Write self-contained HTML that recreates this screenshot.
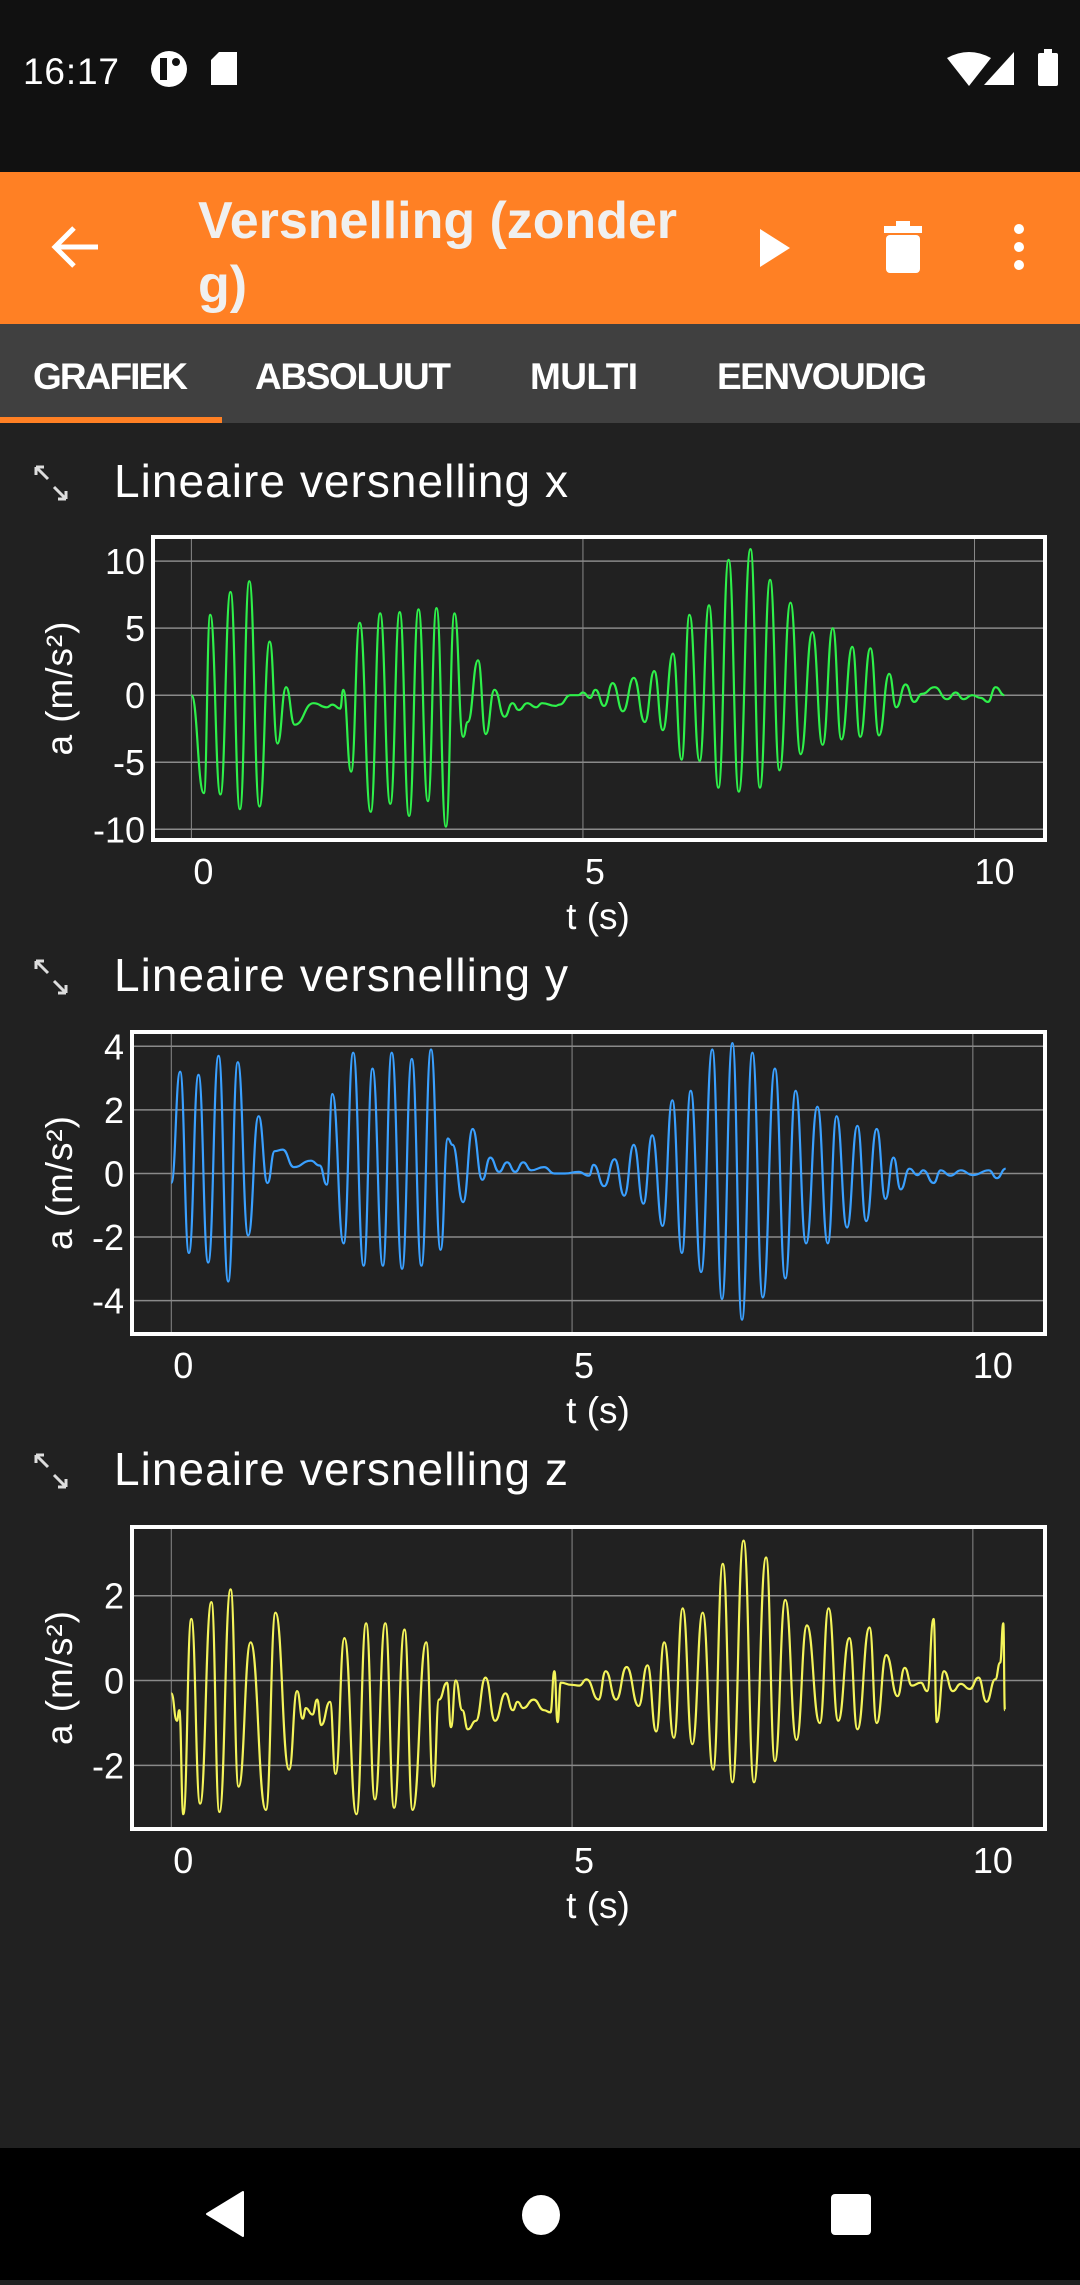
<!DOCTYPE html>
<html><head><meta charset="utf-8">
<style>
html,body{margin:0;padding:0;background:#212121;}
body{width:1080px;height:2280px;position:relative;overflow:hidden;font-family:"Liberation Sans",sans-serif;}
svg text{font-family:"Liberation Sans",sans-serif;}
</style></head>
<body>
<svg id="page" width="1080" height="2280" viewBox="0 0 1080 2280" xmlns="http://www.w3.org/2000/svg">
  <rect x="0" y="0" width="1080" height="2280" fill="#212121"/>
  <g>
    <rect x="0" y="0" width="1080" height="172" fill="#111111"/>
    <text x="23" y="84" font-size="37" fill="#ffffff" textLength="96">16:17</text>
    <circle cx="169" cy="69" r="18" fill="#fff"/>
    <rect x="160" y="58" width="7" height="22" fill="#111"/>
    <circle cx="176" cy="62" r="4" fill="#111"/>
    <path d="M219 52 h18 v33 h-26 v-25 z" fill="#fff"/>
    <path d="M947 58 q22 -12 44 0 l-22 28 z" fill="#fff"/>
    <path d="M1014 52 v33 h-30 z" fill="#fff"/>
    <rect x="1038" y="53" width="20" height="33" rx="2" fill="#fff"/>
    <rect x="1044" y="49" width="8" height="5" fill="#fff"/>
  </g>
  <g>
    <rect x="0" y="172" width="1080" height="152" fill="#ff8024"/>
    <g>
      <path d="M98 247 H56 M74 228 L55 247 L74 266" stroke="#fff" stroke-width="5" fill="none"/>
    </g>
    <text font-size="52" font-weight="bold" fill="#f0f0f0">
      <tspan x="198" y="238" textLength="479">Versnelling (zonder</tspan>
      <tspan x="198" y="302">g)</tspan>
    </text>
    <path d="M760 229 L790 248 L760 267 z" fill="#fff"/>
    <g>
      <rect x="884" y="226" width="38" height="7" fill="#fff"/>
      <rect x="896" y="221" width="14" height="6" fill="#fff"/>
      <rect x="886" y="235" width="34" height="38" rx="4" fill="#fff"/>
    </g>
    <g fill="#fff">
      <circle cx="1019" cy="229" r="5"/><circle cx="1019" cy="247" r="5"/><circle cx="1019" cy="265" r="5"/>
    </g>
  </g>
  <g>
    <rect x="0" y="324" width="1080" height="99" fill="#404040"/>
    <text x="33" y="389" font-size="37" font-weight="bold" fill="#fff" textLength="155">GRAFIEK</text>
    <text x="255" y="389" font-size="37" font-weight="bold" fill="#fff" textLength="196">ABSOLUUT</text>
    <text x="530" y="389" font-size="37" font-weight="bold" fill="#fff" textLength="108">MULTI</text>
    <text x="717" y="389" font-size="37" font-weight="bold" fill="#fff" textLength="210">EENVOUDIG</text>
    <rect x="0" y="417" width="222" height="6" fill="#ff8024"/>
  </g>
  <g id="charts"></g>
  <g>
    <rect x="0" y="2148" width="1080" height="132" fill="#000"/>
    <path d="M243 2192 L243 2236 L207 2214 z" fill="#fff" stroke="#fff" stroke-width="2" stroke-linejoin="round"/>
    <ellipse cx="541" cy="2215" rx="19" ry="20" fill="#fff"/>
    <rect x="831" y="2194" width="40" height="41" rx="4" fill="#fff"/>
  </g>
</svg>
<script>
// ---- data: chart x (green) ----
const xTimes = [0,0.16,0.24,0.37,0.50,0.62,0.74,0.87,1.0,1.10,1.21,1.32,1.56,1.73,1.8,1.9,1.94,2.04,2.15,2.29,2.41,2.54,2.66,2.78,2.90,3.02,3.13,3.25,3.36,3.47,3.53,3.66,3.76,3.87,4.0,4.1,4.18,4.29,4.4,4.48,4.65,4.7,4.84,4.94,5.0,5.09,5.16,5.27,5.38,5.51,5.65,5.79,5.91,6.02,6.15,6.26,6.36,6.49,6.61,6.73,6.86,6.99,7.14,7.26,7.39,7.51,7.65,7.78,7.93,8.06,8.19,8.3,8.44,8.54,8.67,8.78,8.91,9.0,9.12,9.23,9.33,9.49,9.65,9.76,9.86,9.97,10.08,10.17,10.27,10.38];
const xValues = [0,-7.3,6.0,-7.4,7.7,-8.5,8.5,-8.3,4.0,-3.6,0.6,-2.2,-0.6,-0.9,-0.7,-1.0,0.4,-5.7,5.4,-8.7,6.1,-8.1,6.2,-9.0,6.4,-7.9,6.5,-9.8,6.1,-3.1,-2.0,2.6,-2.9,0.4,-1.6,-0.6,-1.1,-0.6,-0.9,-0.6,-0.8,-0.7,0,0,0.2,-0.2,0.4,-0.8,0.9,-1.2,1.3,-2.0,1.8,-2.6,3.1,-4.8,6.0,-4.9,6.7,-6.9,10.1,-7.2,10.9,-6.9,8.6,-5.6,6.9,-4.4,4.7,-3.7,5.0,-3.3,3.6,-3.1,3.5,-3.0,1.6,-0.9,0.8,-0.5,0.1,0.6,-0.3,0.2,-0.3,0,-0.2,-0.5,0.6,0];
const xTicksY = [10,5,0,-5,-10];
// ---- data: chart y (blue) ----
const yTimes = [0,0.11,0.22,0.34,0.46,0.59,0.71,0.83,0.96,1.09,1.20,1.29,1.39,1.53,1.74,1.85,1.94,2.01,2.15,2.27,2.40,2.51,2.64,2.75,2.88,3.0,3.12,3.24,3.36,3.45,3.51,3.64,3.76,3.88,3.98,4.09,4.19,4.29,4.39,4.49,4.65,4.78,4.91,5.08,5.21,5.27,5.4,5.53,5.65,5.77,5.89,6.0,6.13,6.25,6.37,6.48,6.61,6.75,6.87,7.0,7.12,7.25,7.38,7.53,7.66,7.79,7.92,8.06,8.19,8.30,8.43,8.56,8.67,8.80,8.91,9.01,9.1,9.21,9.31,9.38,9.51,9.6,9.72,9.85,10.0,10.2,10.3,10.41];
const yValues = [-0.3,3.2,-2.5,3.1,-2.8,3.7,-3.4,3.5,-1.95,1.8,-0.3,0.7,0.75,0.2,0.4,0.25,-0.35,2.5,-2.2,3.8,-2.9,3.3,-2.9,3.8,-3.0,3.6,-2.9,3.9,-2.4,1.1,0.9,-0.9,1.4,-0.2,0.5,0.05,0.35,0.05,0.35,0.1,0.2,0,0,0.05,-0.07,0.27,-0.4,0.45,-0.7,0.9,-0.95,1.2,-1.65,2.3,-2.5,2.6,-3.1,3.9,-3.95,4.1,-4.6,3.8,-3.9,3.3,-3.3,2.6,-2.2,2.1,-2.2,1.8,-1.7,1.5,-1.5,1.4,-0.8,0.5,-0.5,0.15,-0.05,0.1,-0.3,0.1,-0.07,0.1,-0.05,0.1,-0.15,0.15];
const yTicksY = [4,2,0,-2,-4];
// ---- data: chart z (yellow) ----
const zTimes = [0,0.07,0.1,0.15,0.25,0.36,0.5,0.6,0.74,0.84,0.99,1.18,1.3,1.47,1.57,1.64,1.68,1.76,1.82,1.87,1.98,2.05,2.16,2.31,2.43,2.54,2.67,2.78,2.91,3.01,3.18,3.27,3.34,3.44,3.49,3.55,3.63,3.7,3.8,3.92,4.04,4.17,4.26,4.32,4.39,4.52,4.65,4.73,4.78,4.82,4.86,4.99,5.09,5.18,5.33,5.42,5.55,5.68,5.83,5.94,6.05,6.15,6.27,6.38,6.5,6.63,6.76,6.88,7.0,7.14,7.27,7.42,7.53,7.66,7.8,7.93,8.09,8.2,8.32,8.46,8.56,8.71,8.8,8.92,9.06,9.15,9.24,9.35,9.43,9.51,9.55,9.64,9.75,9.85,9.96,10.07,10.17,10.28,10.34,10.38,10.4];
const zValues = [-0.3,-0.95,-0.7,-3.15,1.45,-2.9,1.85,-3.1,2.15,-2.5,0.9,-3.05,1.6,-2.1,-0.25,-0.9,-0.65,-0.8,-0.45,-1.05,-0.5,-2.2,1.0,-3.15,1.35,-2.8,1.35,-3.0,1.2,-3.05,0.9,-2.5,-0.45,-0.05,-1.1,0,-0.7,-1.15,-0.95,0.07,-0.95,-0.3,-0.7,-0.5,-0.65,-0.45,-0.7,-0.75,0.22,-0.98,-0.05,-0.1,-0.12,0.03,-0.45,0.22,-0.45,0.32,-0.6,0.36,-1.2,0.9,-1.35,1.7,-1.5,1.6,-2.1,2.75,-2.4,3.3,-2.4,2.9,-1.9,1.9,-1.4,1.3,-1.0,1.7,-0.95,1.0,-1.15,1.25,-1.0,0.6,-0.37,0.3,-0.12,-0.05,-0.25,1.45,-0.98,0.22,-0.25,-0.08,-0.2,0.07,-0.5,0.03,0.42,1.35,-0.7];
const zTicksY = [2,0,-2];
const tTicks = [0,5,10];

const NS = 'http://www.w3.org/2000/svg';
function mk(tag, attrs, parent){const e=document.createElementNS(NS,tag);for(const k in attrs)e.setAttribute(k,attrs[k]);parent.appendChild(e);return e;}

function drawChart(cfg){
  const root=document.getElementById('charts');
  const g=mk('g',{},root);
  
  
  const ic=mk('g',{stroke:'#ddd','stroke-width':3,fill:'none'},g);
  
  
  const iy=cfg.titleY-14;
  mk('path',{d:`M36 ${iy-16} L48 ${iy-4} M36 ${iy-16} v8 M36 ${iy-16} h8 M66 ${iy+16} L54 ${iy+4} M66 ${iy+16} v-8 M66 ${iy+16} h-8`},ic);
  const tt=mk('text',{x:114,y:cfg.titleY,'font-size':46,fill:'#fff',textLength:454},g);
  tt.textContent=cfg.title;
  
  
  const L=cfg.left,R=1045,T=cfg.top,B=cfg.bottom;
  const tmin=-0.49,tmax=10.9;
  const sx=t=>L+(t-tmin)/(tmax-tmin)*(R-L);
  const sy=v=>T+(cfg.vmax-v)/(cfg.vmax-cfg.vmin)*(B-T);
  for(const v of cfg.yTicks){
    const ln=mk('line',{x1:L,x2:R,y1:sy(v),y2:sy(v),stroke:'#8a8a8a','stroke-width':1.5},g);
    
    
    const tx=mk('text',{x:L-8,y:sy(v)+13,'font-size':36,fill:'#fff','text-anchor':'end'},g);
    tx.textContent=String(v);
    
    
  }
  for(const t of tTicks){
    const ln=mk('line',{x1:sx(t),x2:sx(t),y1:T,y2:B,stroke:'#8a8a8a','stroke-width':1},g);
    
    
    const tx=mk('text',{x:sx(t)+(t===10?20:12),y:B+44,'font-size':36,fill:'#fff','text-anchor':'middle'},g);
    tx.textContent=String(t);
    
    
  }
  let d='';
  for(let i=0;i<cfg.times.length;i++){
    const x=sx(cfg.times[i]),y=sy(cfg.values[i]);
    if(i===0){d+=`M${x.toFixed(1)} ${y.toFixed(1)}`;}
    else{const px=sx(cfg.times[i-1]),py=sy(cfg.values[i-1]);const h=(x-px)/2;
      d+=` C${(px+h).toFixed(1)} ${py.toFixed(1)} ${(x-h).toFixed(1)} ${y.toFixed(1)} ${x.toFixed(1)} ${y.toFixed(1)}`;}
  }
  const p=mk('path',{d:d,stroke:cfg.color,'stroke-width':2.2,fill:'none','stroke-linejoin':'round'},g);
  
  
  const bx=mk('rect',{x:L,y:T,width:R-L,height:B-T,fill:'none',stroke:'#fff','stroke-width':4},g);
  
  
  const xt=mk('text',{x:598,y:B+89,'font-size':37,fill:'#fff','text-anchor':'middle'},g);
  xt.textContent='t (s)';
  
  
  const cy=(T+B)/2;
  const yt=mk('text',{x:0,y:0,'font-size':37,fill:'#fff','text-anchor':'middle',textLength:134,transform:`translate(72 ${cy}) rotate(-90)`},g);
  yt.textContent='a (m/s²)';
  
  
}
drawChart({name:'chart-x',title:'Lineaire versnelling x',titleY:497,left:153,top:537,bottom:840,vmin:-10.8,vmax:11.8,yTicks:xTicksY,times:xTimes,values:xValues,color:'#2ef04a'});
drawChart({name:'chart-y',title:'Lineaire versnelling y',titleY:991,left:132,top:1032,bottom:1334,vmin:-5.05,vmax:4.45,yTicks:yTicksY,times:yTimes,values:yValues,color:'#3aa0ff'});
drawChart({name:'chart-z',title:'Lineaire versnelling z',titleY:1485,left:132,top:1527,bottom:1829,vmin:-3.5,vmax:3.62,yTicks:zTicksY,times:zTimes,values:zValues,color:'#f4f45a'});
</script>
</body></html>
